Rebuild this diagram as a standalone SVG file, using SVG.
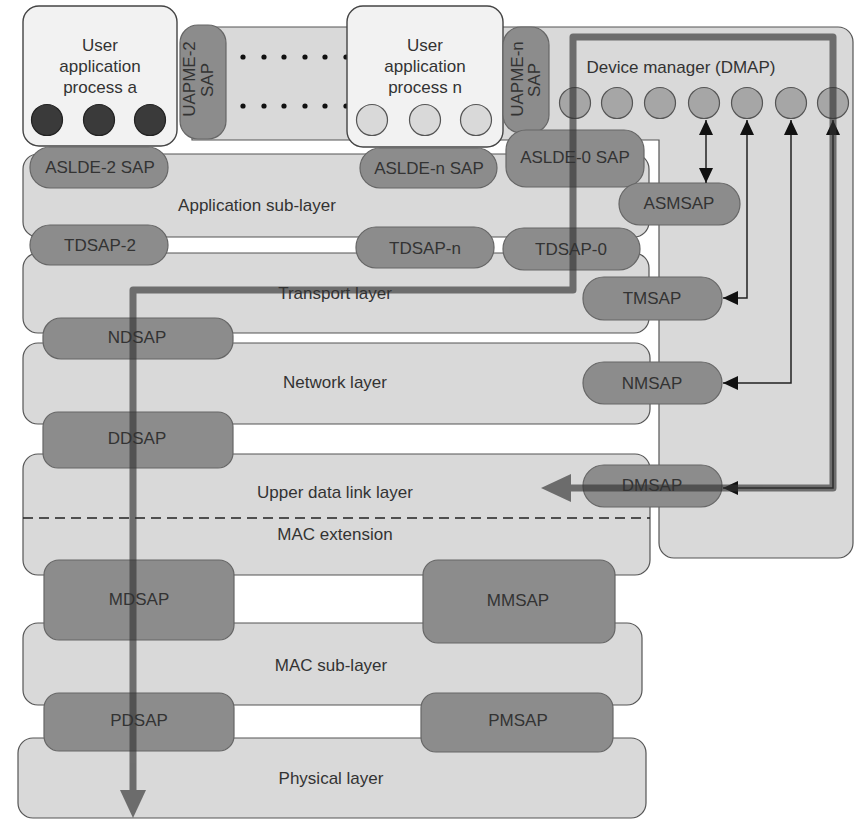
<svg xmlns="http://www.w3.org/2000/svg" width="855" height="819" viewBox="0 0 855 819">
<defs>
<style>
text{font-family:"Liberation Sans",Arial,sans-serif;font-size:17px;fill:#333;text-anchor:middle}
.layer{fill:#d9d9d9;stroke:#555;stroke-width:1.2}
.sap{fill:#8c8c8c;stroke:#666;stroke-width:1.2}
.uap{fill:#f2f2f2;stroke:#444;stroke-width:1.4}
.dark{fill:#3a3a3a;stroke:#222;stroke-width:1.2}
.light{fill:#d9d9d9;stroke:#555;stroke-width:1.2}
.dm{fill:#a6a6a6;stroke:#555;stroke-width:1.2}
.thin{fill:none;stroke:#222;stroke-width:1.5}
.dot{fill:#111}
</style>
<marker id="ah" markerUnits="userSpaceOnUse" markerWidth="15" markerHeight="14" refX="15" refY="7" orient="auto-start-reverse" viewBox="0 0 15 14">
<path d="M0,0 L15,7 L0,14 z" fill="#111"/>
</marker>
</defs>
<rect width="855" height="819" fill="#fff"/>

<g id="dmap">
<path d="M192,27 H838 A15 15 0 0 1 853 42 V543 A15 15 0 0 1 838 558 H674 A15 15 0 0 1 659 543 V140 H192 Z" class="layer"/>
<text x="681" y="73">Device manager (DMAP)</text>
<circle cx="575" cy="103" r="15.5" class="dm"/>
<circle cx="617" cy="103" r="15.5" class="dm"/>
<circle cx="660" cy="103" r="15.5" class="dm"/>
<circle cx="704" cy="103" r="15.5" class="dm"/>
<circle cx="747" cy="103" r="15.5" class="dm"/>
<circle cx="791" cy="103" r="15.5" class="dm"/>
<circle cx="833" cy="103" r="15.5" class="dm"/>
</g>

<g id="dots">
<circle cx="243" cy="57" r="2.6" class="dot"/><circle cx="264" cy="57" r="2.6" class="dot"/><circle cx="284" cy="57" r="2.6" class="dot"/><circle cx="305" cy="57" r="2.6" class="dot"/><circle cx="325" cy="57" r="2.6" class="dot"/><circle cx="346" cy="57" r="2.6" class="dot"/>
<circle cx="243" cy="106" r="2.6" class="dot"/><circle cx="264" cy="106" r="2.6" class="dot"/><circle cx="284" cy="106" r="2.6" class="dot"/><circle cx="305" cy="106" r="2.6" class="dot"/><circle cx="325" cy="106" r="2.6" class="dot"/><circle cx="346" cy="106" r="2.6" class="dot"/>
</g>

<g id="app-sublayer"><rect x="23" y="154" width="626" height="83" rx="15" class="layer"/><text x="257" y="211">Application sub-layer</text></g>
<g id="transport-layer"><rect x="23" y="253" width="626" height="80" rx="15" class="layer"/><text x="335" y="299">Transport layer</text></g>
<g id="network-layer"><rect x="23" y="343" width="627" height="81" rx="15" class="layer"/><text x="335" y="388">Network layer</text></g>
<g id="upper-dll"><rect x="23" y="454" width="627" height="121" rx="15" class="layer"/><text x="335" y="498">Upper data link layer</text>
<line x1="23" y1="518" x2="650" y2="518" stroke="#222" stroke-width="1.3" stroke-dasharray="10,6"/>
<text x="335" y="540">MAC extension</text></g>
<g id="mac-sublayer"><rect x="23" y="623" width="619" height="82" rx="15" class="layer"/><text x="331" y="671">MAC sub-layer</text></g>
<g id="physical-layer"><rect x="18" y="738" width="628" height="80" rx="15" class="layer"/><text x="331" y="784">Physical layer</text></g>

<g id="uap-a"><rect x="23" y="6" width="154" height="140" rx="16" class="uap"/>
<text x="100" y="51">User</text><text x="100" y="72">application</text><text x="100" y="93">process a</text>
<circle cx="47" cy="120" r="15.5" class="dark"/><circle cx="99" cy="120" r="15.5" class="dark"/><circle cx="150" cy="120" r="15.5" class="dark"/></g>

<g id="uap-n"><rect x="347" y="6" width="156" height="141" rx="16" class="uap"/>
<text x="425" y="51">User</text><text x="425" y="72">application</text><text x="425" y="93">process n</text>
<circle cx="372" cy="120" r="15.5" class="light"/><circle cx="425" cy="120" r="15.5" class="light"/><circle cx="476" cy="120" r="15.5" class="light"/></g>

<g id="uapme-2"><rect x="180" y="25" width="46" height="114" rx="18" class="sap"/>
<text transform="translate(195,79) rotate(-90)">UAPME-2</text><text transform="translate(213,80) rotate(-90)">SAP</text></g>
<g id="uapme-n"><rect x="503" y="27" width="46" height="106" rx="18" class="sap"/>
<text transform="translate(523,79) rotate(-90)">UAPME-n</text><text transform="translate(540,80) rotate(-90)">SAP</text></g>

<g id="aslde-2"><rect x="30" y="147" width="138" height="41" rx="20" class="sap"/><text x="100" y="173">ASLDE-2 SAP</text></g>
<g id="aslde-n"><rect x="360" y="148" width="137" height="40" rx="20" class="sap"/><text x="429" y="174">ASLDE-n SAP</text></g>
<g id="aslde-0"><rect x="506" y="130" width="138" height="57" rx="20" class="sap"/><text x="575" y="163">ASLDE-0 SAP</text></g>
<g id="asmsap"><rect x="619" y="183" width="121" height="42" rx="21" class="sap"/><text x="679" y="209">ASMSAP</text></g>
<g id="tdsap-2"><rect x="30" y="225" width="138" height="40" rx="20" class="sap"/><text x="100" y="251">TDSAP-2</text></g>
<g id="tdsap-n"><rect x="356" y="227" width="138" height="41" rx="20" class="sap"/><text x="425" y="254">TDSAP-n</text></g>
<g id="tdsap-0"><rect x="503" y="228" width="137" height="42" rx="21" class="sap"/><text x="571" y="255">TDSAP-0</text></g>
<g id="tmsap"><rect x="583" y="277" width="139" height="43" rx="21" class="sap"/><text x="652" y="304">TMSAP</text></g>
<g id="ndsap"><rect x="43" y="318" width="190" height="41" rx="18" class="sap"/><text x="137" y="343">NDSAP</text></g>
<g id="nmsap"><rect x="583" y="362" width="139" height="42" rx="21" class="sap"/><text x="652" y="389">NMSAP</text></g>
<g id="ddsap"><rect x="43" y="412" width="190" height="56" rx="15" class="sap"/><text x="137" y="444">DDSAP</text></g>
<g id="dmsap"><rect x="583" y="465" width="139" height="42" rx="21" class="sap"/><text x="652" y="491">DMSAP</text></g>
<g id="mdsap"><rect x="44" y="560" width="190" height="80" rx="15" class="sap"/><text x="139" y="605">MDSAP</text></g>
<g id="mmsap"><rect x="423" y="560" width="192" height="83" rx="15" class="sap"/><text x="518" y="606">MMSAP</text></g>
<g id="pdsap"><rect x="44" y="693" width="190" height="58" rx="15" class="sap"/><text x="139" y="726">PDSAP</text></g>
<g id="pmsap"><rect x="421" y="693" width="192" height="59" rx="15" class="sap"/><text x="518" y="726">PMSAP</text></g>

<g id="connectors">
<path d="M706,120 V183" class="thin" marker-start="url(#ah)" marker-end="url(#ah)"/>
<path d="M747,120 V298 H723" class="thin" marker-start="url(#ah)" marker-end="url(#ah)"/>
<path d="M791,120 V383 H723" class="thin" marker-start="url(#ah)" marker-end="url(#ah)"/>
<path d="M833,120 V488 H723" class="thin" marker-start="url(#ah)" marker-end="url(#ah)"/>
<g opacity="0.65">
<path d="M556,488 H833 V37 H573 V290 H133 V795" fill="none" stroke="#333" stroke-width="7" stroke-linejoin="round" stroke-linecap="round"/>
<polygon points="541,488 571,474 571,502" fill="#333"/>
<polygon points="133,818 120,790 146,790" fill="#333"/>
</g>
</g>
</svg>
